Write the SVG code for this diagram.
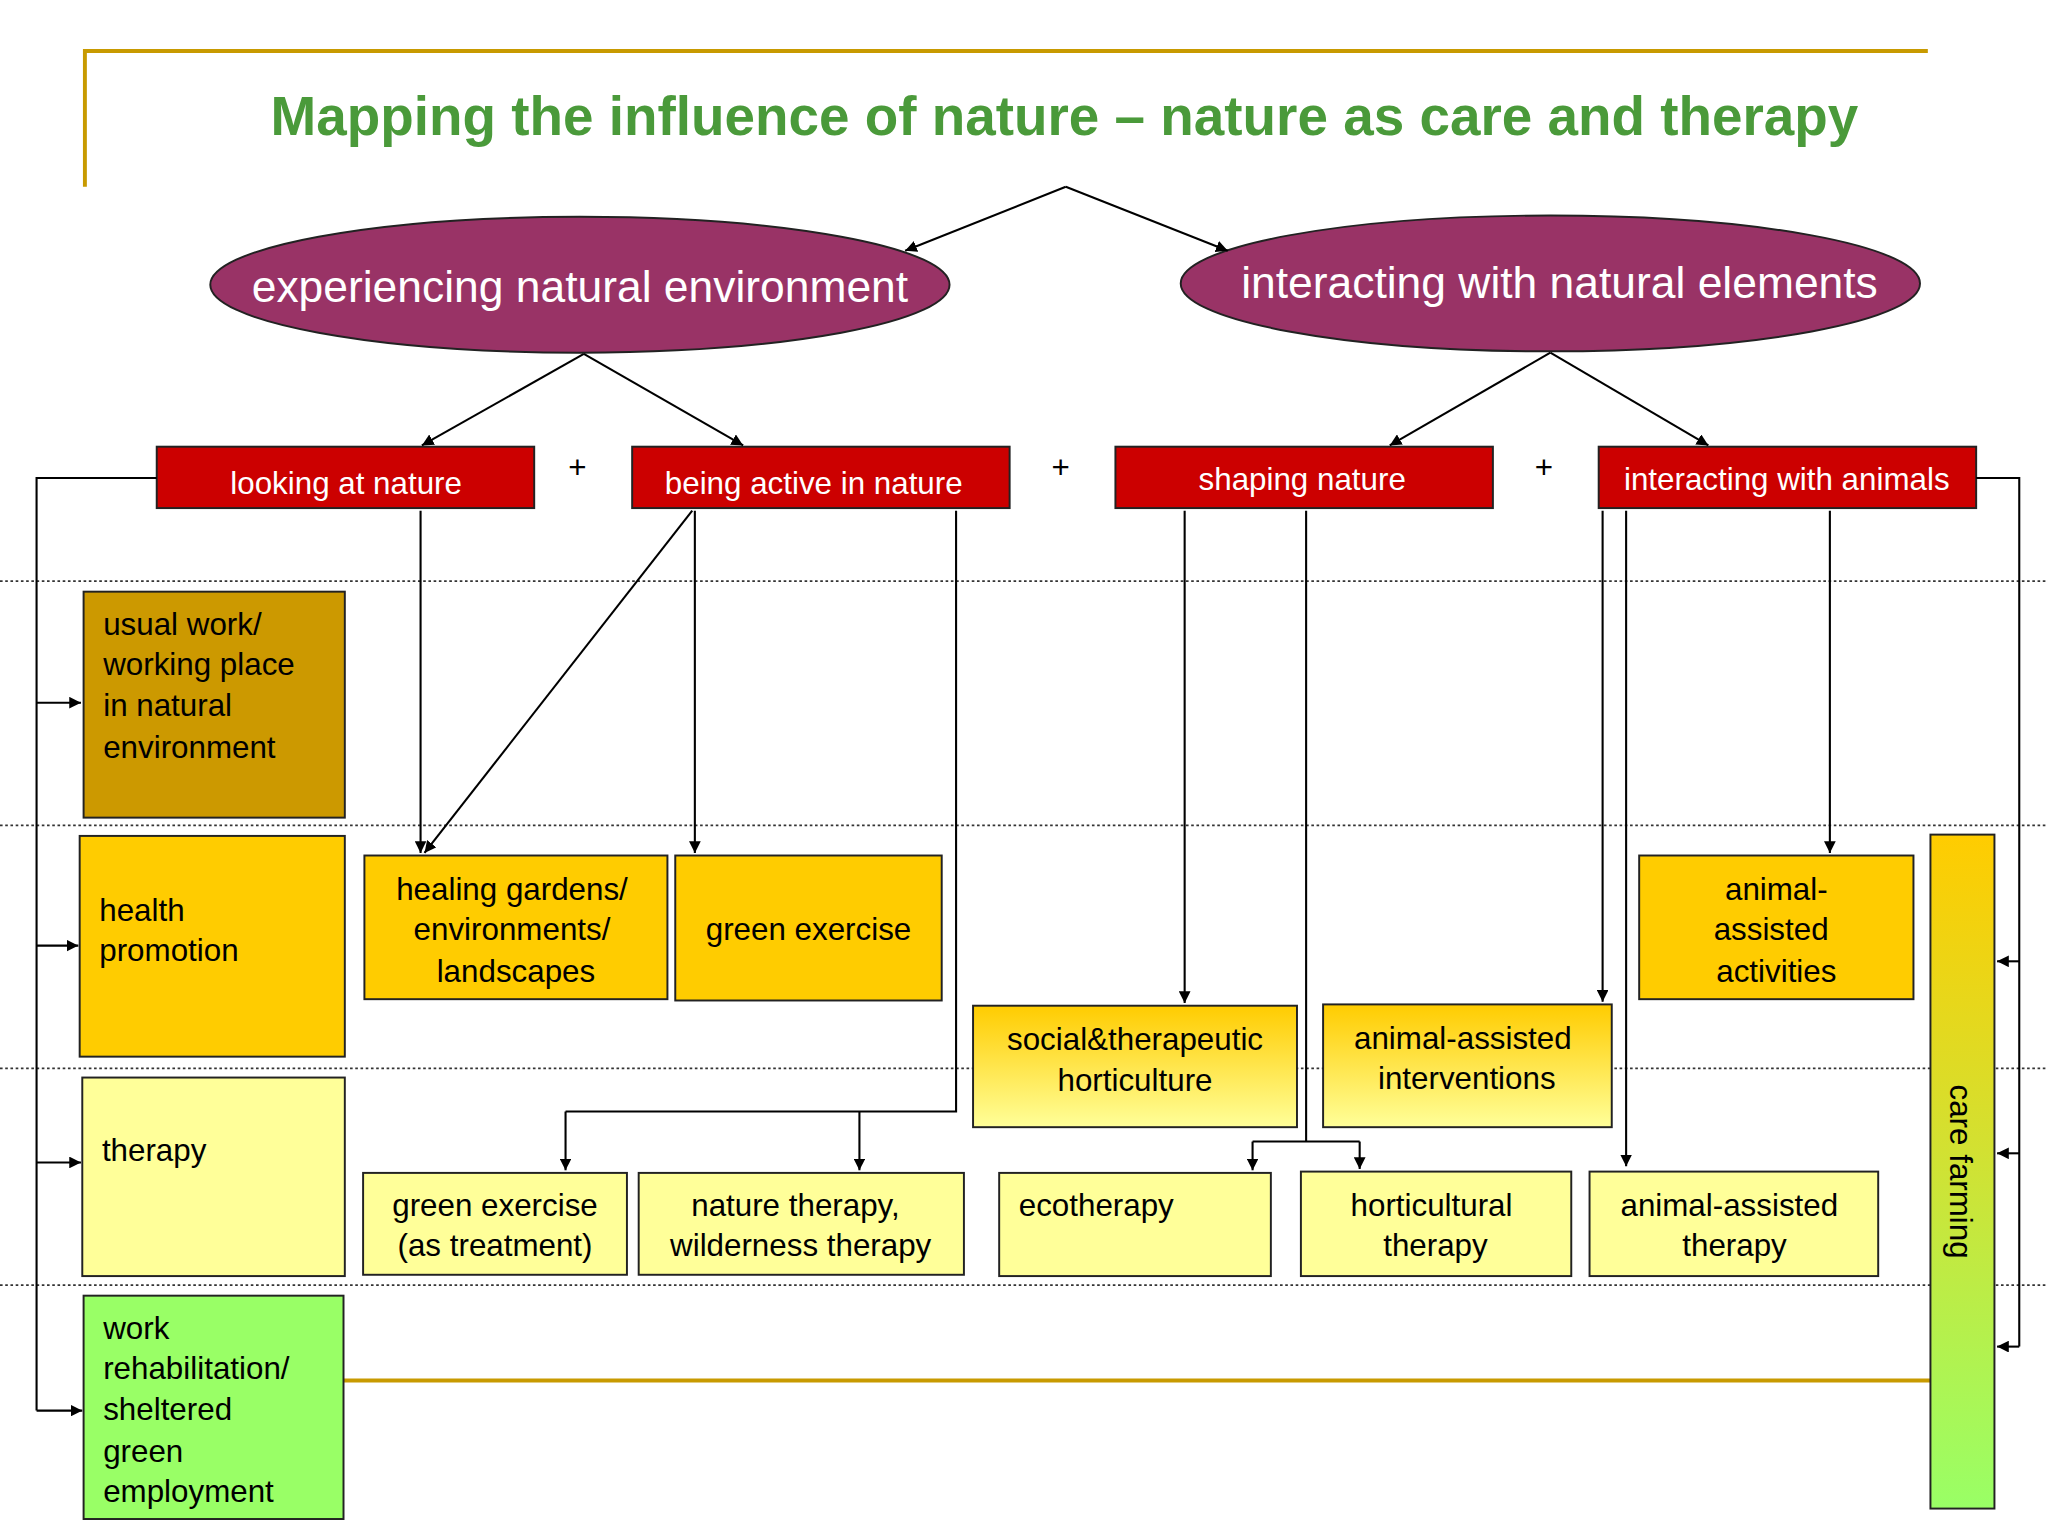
<svg xmlns="http://www.w3.org/2000/svg" width="2048" height="1536" viewBox="0 0 2048 1536">
<style>
text{font-family:"Liberation Sans",Arial,sans-serif;fill:#000;font-size:24px}
.w{fill:#fff}
.c{stroke:#000;stroke-width:1.6;fill:none}
.b{stroke:#222;stroke-width:1.5}
.dot{stroke:#333;stroke-width:1.3;stroke-dasharray:2 2}
</style>
<defs>
<marker id="a" viewBox="0 0 10 10" refX="10" refY="5" markerWidth="9" markerHeight="9" markerUnits="userSpaceOnUse" orient="auto"><path d="M0,0L10,5L0,10z" fill="#000"/></marker>
<linearGradient id="g1" x1="0" y1="0" x2="0" y2="1"><stop offset="0" stop-color="#FFCC00"/><stop offset="1" stop-color="#FFFF99"/></linearGradient>
<linearGradient id="g2" x1="0" y1="0" x2="0" y2="1"><stop offset="0" stop-color="#FFCC00"/><stop offset="0.45" stop-color="#D4E030"/><stop offset="1" stop-color="#99FF66"/></linearGradient>
</defs>
<rect width="2048" height="1536" fill="#fff"/>
<g transform="scale(1.30612)">
<g id="frame"><path d="M65,143V39H1476M263,1057H1478" stroke="#C89A00" stroke-width="3" fill="none"/>
<text x="815" y="103" text-anchor="middle" style="font-size:42px;font-weight:bold;fill:#4A9A3A">Mapping the influence of nature – nature as care and therapy</text></g>
<g id="grid"><path class="dot" d="M0,445H1568M0,632H1568M0,818H1568M0,984H1568"/></g>
<g id="e1"><ellipse cx="444" cy="218" rx="283" ry="52" fill="#993366" class="b"/><text class="w" x="444" y="231" text-anchor="middle" style="font-size:34px;fill:#fff">experiencing natural environment</text></g>
<g id="e2"><ellipse cx="1187" cy="217" rx="283" ry="52" fill="#993366" class="b"/><text x="1194" y="228" text-anchor="middle" style="font-size:34px;fill:#fff">interacting with natural elements</text></g>
<g id="r1"><rect x="120" y="342" width="289" height="47" fill="#CC0000" class="b"/><text x="265" y="378" text-anchor="middle" style="fill:#fff">looking at nature</text></g>
<g id="r2"><rect x="484" y="342" width="289" height="47" fill="#CC0000" class="b"/><text x="623" y="378" text-anchor="middle" style="fill:#fff">being active in nature</text></g>
<g id="r3"><rect x="854" y="342" width="289" height="47" fill="#CC0000" class="b"/><text x="997" y="375" text-anchor="middle" style="fill:#fff">shaping nature</text></g>
<g id="r4"><rect x="1224" y="342" width="289" height="47" fill="#CC0000" class="b"/><text x="1368" y="375" text-anchor="middle" style="fill:#fff">interacting with animals</text></g>
<g id="plus"><text x="442" y="366" text-anchor="middle">+</text><text x="812" y="366" text-anchor="middle">+</text><text x="1182" y="366" text-anchor="middle">+</text></g>
<g id="l1"><rect x="64" y="453" width="200" height="173" fill="#CC9900" class="b"/><text x="79" y="486">usual work/</text><text x="79" y="517">working place</text><text x="79" y="548">in natural</text><text x="79" y="580">environment</text></g>
<g id="l2"><rect x="61" y="640" width="203" height="169" fill="#FFCC00" class="b"/><text x="76" y="705">health</text><text x="76" y="736">promotion</text></g>
<g id="l3"><rect x="63" y="825" width="201" height="152" fill="#FFFF99" class="b"/><text x="78" y="889">therapy</text></g>
<g id="l4"><rect x="64" y="992" width="199" height="171" fill="#99FF66" class="b"/><text x="79" y="1025">work</text><text x="79" y="1056">rehabilitation/</text><text x="79" y="1087">sheltered</text><text x="79" y="1119">green</text><text x="79" y="1150">employment</text></g>
<g id="n1"><rect x="279" y="655" width="232" height="110" fill="#FFCC00" class="b"/><text x="392" y="689" text-anchor="middle">healing gardens/</text><text x="392" y="720" text-anchor="middle">environments/</text><text x="395" y="752" text-anchor="middle">landscapes</text></g>
<g id="n2"><rect x="517" y="655" width="204" height="111" fill="#FFCC00" class="b"/><text x="619" y="720" text-anchor="middle">green exercise</text></g>
<g id="n3"><rect x="745" y="770" width="248" height="93" fill="url(#g1)" class="b"/><text x="869" y="804" text-anchor="middle">social&amp;therapeutic</text><text x="869" y="835" text-anchor="middle">horticulture</text></g>
<g id="n4"><rect x="1013" y="769" width="221" height="94" fill="url(#g1)" class="b"/><text x="1120" y="803" text-anchor="middle">animal-assisted</text><text x="1123" y="834" text-anchor="middle">interventions</text></g>
<g id="n5"><rect x="1255" y="655" width="210" height="110" fill="#FFCC00" class="b"/><text x="1360" y="689" text-anchor="middle">animal-</text><text x="1356" y="720" text-anchor="middle">assisted</text><text x="1360" y="752" text-anchor="middle">activities</text></g>
<g id="n6"><rect x="278" y="898" width="202" height="78" fill="#FFFF99" class="b"/><text x="379" y="931" text-anchor="middle">green exercise</text><text x="379" y="962" text-anchor="middle">(as treatment)</text></g>
<g id="n7"><rect x="489" y="898" width="249" height="78" fill="#FFFF99" class="b"/><text x="609" y="931" text-anchor="middle">nature therapy,</text><text x="613" y="962" text-anchor="middle">wilderness therapy</text></g>
<g id="n8"><rect x="765" y="898" width="208" height="79" fill="#FFFF99" class="b"/><text x="780" y="931">ecotherapy</text></g>
<g id="n9"><rect x="996" y="897" width="207" height="80" fill="#FFFF99" class="b"/><text x="1096" y="931" text-anchor="middle">horticultural</text><text x="1099" y="962" text-anchor="middle">therapy</text></g>
<g id="n10"><rect x="1217" y="897" width="221" height="80" fill="#FFFF99" class="b"/><text x="1324" y="931" text-anchor="middle">animal-assisted</text><text x="1328" y="962" text-anchor="middle">therapy</text></g>
<g id="cf"><rect x="1478" y="639" width="49" height="516" fill="url(#g2)" class="b"/><text transform="translate(1493,897) rotate(90)" text-anchor="middle">care farming</text></g>
<g id="connectors">
<path class="c" marker-end="url(#a)" d="M816,143L693,192"/>
<path class="c" marker-end="url(#a)" d="M816,143L940,192"/>
<path class="c" marker-end="url(#a)" d="M447,271L323,341"/>
<path class="c" marker-end="url(#a)" d="M447,271L569,341"/>
<path class="c" marker-end="url(#a)" d="M1187,270L1064,341"/>
<path class="c" marker-end="url(#a)" d="M1187,270L1308,341"/>
<path class="c" d="M120,366H28V1080"/>
<path class="c" marker-end="url(#a)" d="M28,538H62"/>
<path class="c" marker-end="url(#a)" d="M28,724H60"/>
<path class="c" marker-end="url(#a)" d="M28,890H62"/>
<path class="c" marker-end="url(#a)" d="M28,1080H63"/>
<path class="c" marker-end="url(#a)" d="M322,391V653"/>
<path class="c" marker-end="url(#a)" d="M530,391L325,653"/>
<path class="c" marker-end="url(#a)" d="M532,391V653"/>
<path class="c" d="M732,391V851H433"/>
<path class="c" marker-end="url(#a)" d="M433,851V896"/>
<path class="c" marker-end="url(#a)" d="M658,851V896"/>
<path class="c" marker-end="url(#a)" d="M907,391V768"/>
<path class="c" d="M1000,391V874M959,874H1041"/>
<path class="c" marker-end="url(#a)" d="M959,874V896"/>
<path class="c" marker-end="url(#a)" d="M1041,874V895"/>
<path class="c" marker-end="url(#a)" d="M1227,391V767"/>
<path class="c" marker-end="url(#a)" d="M1245,391V893"/>
<path class="c" marker-end="url(#a)" d="M1401,391V653"/>
<path class="c" d="M1513,366H1546V1031"/>
<path class="c" marker-end="url(#a)" d="M1546,736H1529"/>
<path class="c" marker-end="url(#a)" d="M1546,883H1529"/>
<path class="c" marker-end="url(#a)" d="M1546,1031H1529"/>
</g>
</g>
</svg>
